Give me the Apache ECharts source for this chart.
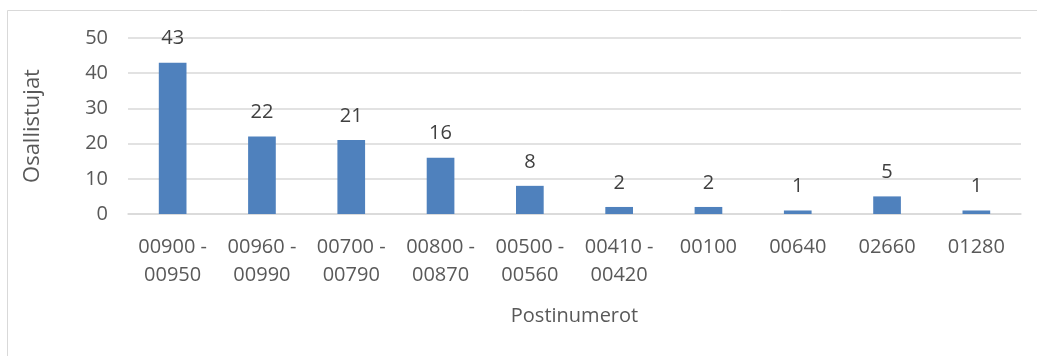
<!DOCTYPE html>
<html>
<head>
<meta charset="utf-8">
<script src="https://cdn.jsdelivr.net/npm/echarts@6/dist/echarts.min.js"></script>
<style>
  html, body { margin: 0; padding: 0; background: #fff; }
  #chart { width: 1037px; height: 356px; }
</style>
</head>
<body>
<div id="chart"></div>
<script>
// Postal code areas and participant counts
const categories = ['00900 -\n00950', '00960 -\n00990', '00700 -\n00790', '00800 -\n00870', '00500 -\n00560', '00410 -\n00420', '00100', '00640', '02660', '01280'];
const participants = [43, 22, 21, 16, 8, 2, 2, 1, 5, 1];
const yTicks = { min: 0, max: 50, interval: 10 };

const font = 'Open Sans, Noto Sans, sans-serif';
const fs = 20;
const chart = echarts.init(document.getElementById('chart'), null, { renderer: 'canvas' });

chart.setOption({
  animation: false,
  backgroundColor: '#fff',
  graphic: [{
    type: 'rect',
    shape: { x: 7.5, y: 10.5, width: 1100, height: 400 },
    style: { fill: 'none', stroke: '#d9d9d9', lineWidth: 1 },
    silent: true
  }],
  grid: { left: 128, right: 16, top: 38, bottom: 142 },
  xAxis: {
    type: 'category',
    data: categories,
    name: 'Postinumerot',
    nameLocation: 'middle',
    nameGap: 92,
    nameTextStyle: { fontFamily: font, fontSize: fs, color: '#595959' },
    axisTick: { show: false },
    axisLine: { lineStyle: { color: '#d9d9d9', width: 1.5 } },
    axisLabel: { fontFamily: font, fontSize: fs, color: '#595959', margin: 19, lineHeight: 28, interval: 0 }
  },
  yAxis: {
    type: 'value',
    min: yTicks.min,
    max: yTicks.max,
    interval: yTicks.interval,
    name: 'Osallistujat',
    nameLocation: 'middle',
    nameGap: 84,
    nameTextStyle: { fontFamily: font, fontSize: 22, color: '#595959' },
    axisLine: { show: false },
    axisTick: { show: false },
    axisLabel: { fontFamily: font, fontSize: fs, color: '#595959', margin: 20 },
    splitLine: { lineStyle: { color: '#d9d9d9', width: 1.5 } }
  },
  series: [{
    type: 'bar',
    data: participants,
    barWidth: '31%',
    itemStyle: { color: '#4f81bd' },
    label: {
      show: true,
      position: 'top',
      distance: 14,
      fontFamily: font,
      fontSize: fs,
      color: '#404040'
    }
  }]
});
</script>
</body>
</html>
